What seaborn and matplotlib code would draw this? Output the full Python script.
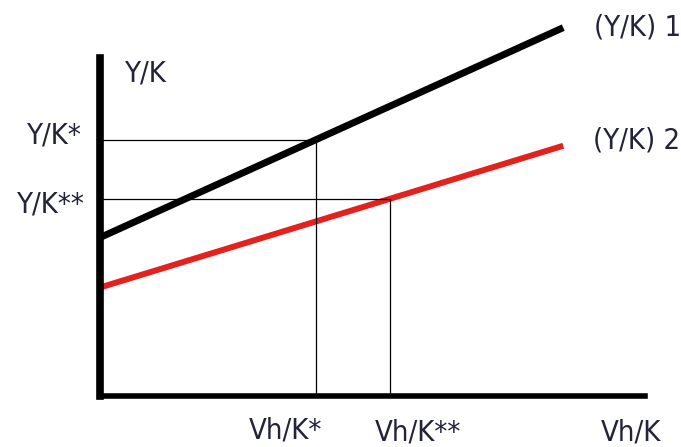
import os
import numpy as np
import matplotlib
matplotlib.use("Agg")
import matplotlib.pyplot as plt
from matplotlib import font_manager
import seaborn as sns

sns.set_style("white")
plt.rcParams['font.family'] = ['Liberation Sans Narrow', 'DejaVu Sans']

# two output/capital schedules against Vh/K
vh_k = [0.0, 8.5]
yk_1 = [4.68, 10.9]
yk_2 = [3.2, 7.4]

vh_star = 3.96      # Vh/K*
vh_star2 = 5.32     # Vh/K**

# read the equilibria off the two lines
y_star = np.interp(vh_star, vh_k, yk_1)
y_star2 = np.interp(vh_star2, vh_k, yk_2)


# the reference uses a narrow face; pick the narrowest regular one installed
def pick_font():
    best = None
    for f in font_manager.fontManager.ttflist:
        base = os.path.basename(f.fname).lower()
        if f.style != "normal" or "bold" in base or "oblique" in base or "italic" in base:
            continue
        if "narrow" in base and "liberation" in base:
            return f.fname, 1.0
        if ("condensed" in base or "narrow" in base) and best is None:
            best = f.fname
    if best:
        return best, 0.93
    return None, 0.82


font_file, size_k = pick_font()
if font_file:
    fp = font_manager.FontProperties(fname=font_file, size=22.5 * size_k)
else:
    fp = font_manager.FontProperties(family="DejaVu Sans", size=22.5 * size_k)

fig = plt.figure(figsize=(6.81, 4.47), dpi=100)
ax = fig.add_axes([100 / 681, (447 - 395.5) / 447, 545 / 681, 337.5 / 447])

sns.lineplot(x=vh_k, y=yk_1, color="black", linewidth=5, ax=ax, clip_on=False,
             solid_capstyle="butt")
sns.lineplot(x=vh_k, y=yk_2, color="#e3211d", linewidth=4.3, ax=ax, clip_on=False,
             solid_capstyle="butt")

# guide lines
ax.plot([0, vh_star], [y_star, y_star], color="black", lw=0.9)
ax.plot([vh_star, vh_star], [0, y_star], color="black", lw=0.9)
ax.plot([0, vh_star2], [y_star2, y_star2], color="black", lw=0.9)
ax.plot([vh_star2, vh_star2], [0, y_star2], color="black", lw=0.9)

ax.set_xlim(0, 10)
ax.set_ylim(0, 10)
ax.set_xticks([])
ax.set_yticks([])
sns.despine(ax=ax)
ax.spines["left"].set_linewidth(5.5)
ax.spines["bottom"].set_linewidth(4)
ax.spines["left"].set_color("black")
ax.spines["bottom"].set_color("black")

txt = dict(fontproperties=fp, color="#23233a", clip_on=False)
ax.text(0.84, 9.29, "Y/K", ha="center", va="baseline", **txt)
ax.text(-0.33, 7.48, "Y/K*", ha="right", va="baseline", **txt)
ax.text(-0.28, 5.41, "Y/K**", ha="right", va="baseline", **txt)
ax.text(3.41, -1.26, "Vh/K*", ha="center", va="baseline", **txt)
ax.text(5.83, -1.33, "Vh/K**", ha="center", va="baseline", **txt)
ax.text(9.74, -1.33, "Vh/K", ha="center", va="baseline", **txt)
ax.text(9.07, 10.68, "(Y/K) 1", ha="left", va="baseline", **txt)
ax.text(9.05, 7.33, "(Y/K) 2", ha="left", va="baseline", **txt)

fig.savefig("out.png", dpi=100)
